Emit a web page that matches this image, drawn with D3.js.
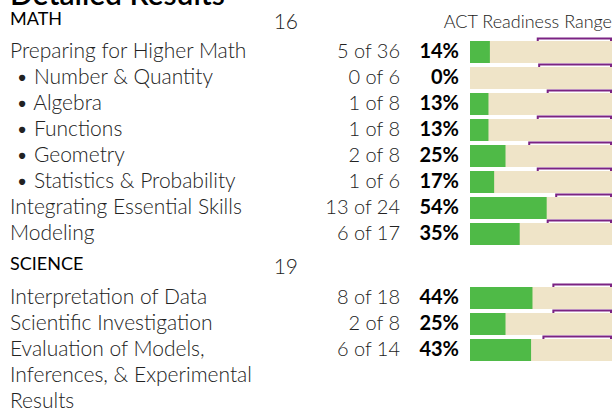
<!DOCTYPE html>
<html>
<head>
<meta charset="utf-8">
<script src="https://cdnjs.cloudflare.com/ajax/libs/d3/7.8.5/d3.min.js"></script>
<style>
  body { margin: 0; background: #fff; }
  svg { display: block; font-family: "Source Sans Pro", "Lato", sans-serif; }
  .label, .count, .score { font-weight: 300; fill: #222; }
  .pct { font-weight: 700; fill: #000; }
  .head { font-weight: 400; fill: #000; }
</style>
</head>
<body>
<div id="chart"></div>
<script>
// Math section
var mathLabels = ["Preparing for Higher Math", "• Number & Quantity", "• Algebra", "• Functions",
    "• Geometry", "• Statistics & Probability", "Integrating Essential Skills", "Modeling"];
var mathCorrect = [5, 0, 1, 1, 2, 1, 13, 6];
var mathTotal = [36, 6, 8, 8, 8, 6, 24, 17];
var mathPct = [14, 0, 13, 13, 25, 17, 54, 35];
var mathRangeLow = [47, 48, 54, 47, 41, 47, 60, 54];

// Science section
var sciLabels = ["Interpretation of Data", "Scientific Investigation",
    "Evaluation of Models, Inferences, & Experimental Results"];
var sciCorrect = [8, 2, 6];
var sciTotal = [18, 8, 14];
var sciPct = [44, 25, 43];
var sciRangeLow = [58, 58, 51];

var width = 616, height = 411;
var barH = 22;

var svg = d3.select("#chart").append("svg")
    .attr("width", width)
    .attr("height", height);

var x = d3.scaleLinear().domain([0, 100]).range([470, 612]);

// title, cut off by the top edge
svg.append("text")
    .attr("x", 10).attr("y", 5)
    .attr("font-size", 30).attr("font-weight", 600)
    .text("Detailed Results");

svg.append("text")
    .attr("class", "label")
    .attr("x", 612).attr("y", 28)
    .attr("text-anchor", "end")
    .attr("font-size", 18)
    .text("ACT Readiness Range");

function section(title, score, headY, labels, correct, total, pct, low, rowY) {
    svg.append("text").attr("class", "head")
        .attr("x", 10).attr("y", headY)
        .attr("font-size", 18)
        .text(title);
    svg.append("text").attr("class", "score")
        .attr("x", 298).attr("y", headY + 4)
        .attr("text-anchor", "end")
        .attr("font-size", 21)
        .text(score);

    var rows = svg.selectAll(null)
        .data(labels.map(function (l, i) {
            return {label: l, correct: correct[i], total: total[i], pct: pct[i], low: low[i], i: i};
        }))
        .enter().append("g")
        .attr("transform", function (d) { return "translate(0," + rowY(d.i) + ")"; });

    // background bar
    rows.append("rect")
        .attr("x", x(0)).attr("y", 0)
        .attr("width", x(100) - x(0)).attr("height", barH)
        .attr("fill", "#efe4c8");
    // score bar
    rows.append("rect")
        .attr("x", x(0)).attr("y", 0)
        .attr("width", function (d) { return x(d.pct) - x(0); })
        .attr("height", barH)
        .attr("fill", "#4fba47");
    // readiness bracket
    rows.append("path")
        .attr("d", function (d) {
            return "M" + (x(d.low) + 1) + ",0V-2.5H" + (x(100) - 1) + "V0";
        })
        .attr("fill", "none")
        .attr("stroke", "#7b2383")
        .attr("stroke-width", 2);

    // sub-items with a bullet sit a little further in
    rows.append("text").attr("class", "label")
        .attr("x", function (d) { return d.label.charAt(0) == "•" ? 16 : 10; })
        .attr("y", 17)
        .attr("font-size", 21)
        .text(function (d) { return d.label; })
        .call(wrap, 255);

    rows.append("text").attr("class", "count")
        .attr("x", 400).attr("y", 17)
        .attr("text-anchor", "end")
        .attr("font-size", 20)
        .text(function (d) { return d.correct + " of " + d.total; });

    rows.append("text").attr("class", "pct")
        .attr("x", 459).attr("y", 17)
        .attr("text-anchor", "end")
        .attr("font-size", 20)
        .text(function (d) { return d.pct + "%"; });
}

var mathY = d3.scaleLinear().domain([0, 1]).range([41, 67]);
var sciY = d3.scaleLinear().domain([0, 1]).range([287, 313]);

section("MATH", "16", 25, mathLabels, mathCorrect, mathTotal, mathPct, mathRangeLow, mathY);
section("SCIENCE", "19", 270, sciLabels, sciCorrect, sciTotal, sciPct, sciRangeLow, sciY);

function wrap(text, w) {
    text.each(function () {
        var t = d3.select(this),
            words = t.text().split(/\s+/).reverse(),
            word, line = [], n = 0,
            x0 = t.attr("x"),
            y = t.attr("y"),
            tspan = t.text(null).append("tspan").attr("x", x0).attr("y", y);
        while (word = words.pop()) {
            line.push(word);
            tspan.text(line.join(" "));
            if (tspan.node().getComputedTextLength() > w && line.length > 1) {
                line.pop();
                tspan.text(line.join(" "));
                line = [word];
                tspan = t.append("tspan").attr("x", x0).attr("y", y).attr("dy", ++n * 26).text(word);
            }
        }
    });
}
</script>
</body>
</html>
